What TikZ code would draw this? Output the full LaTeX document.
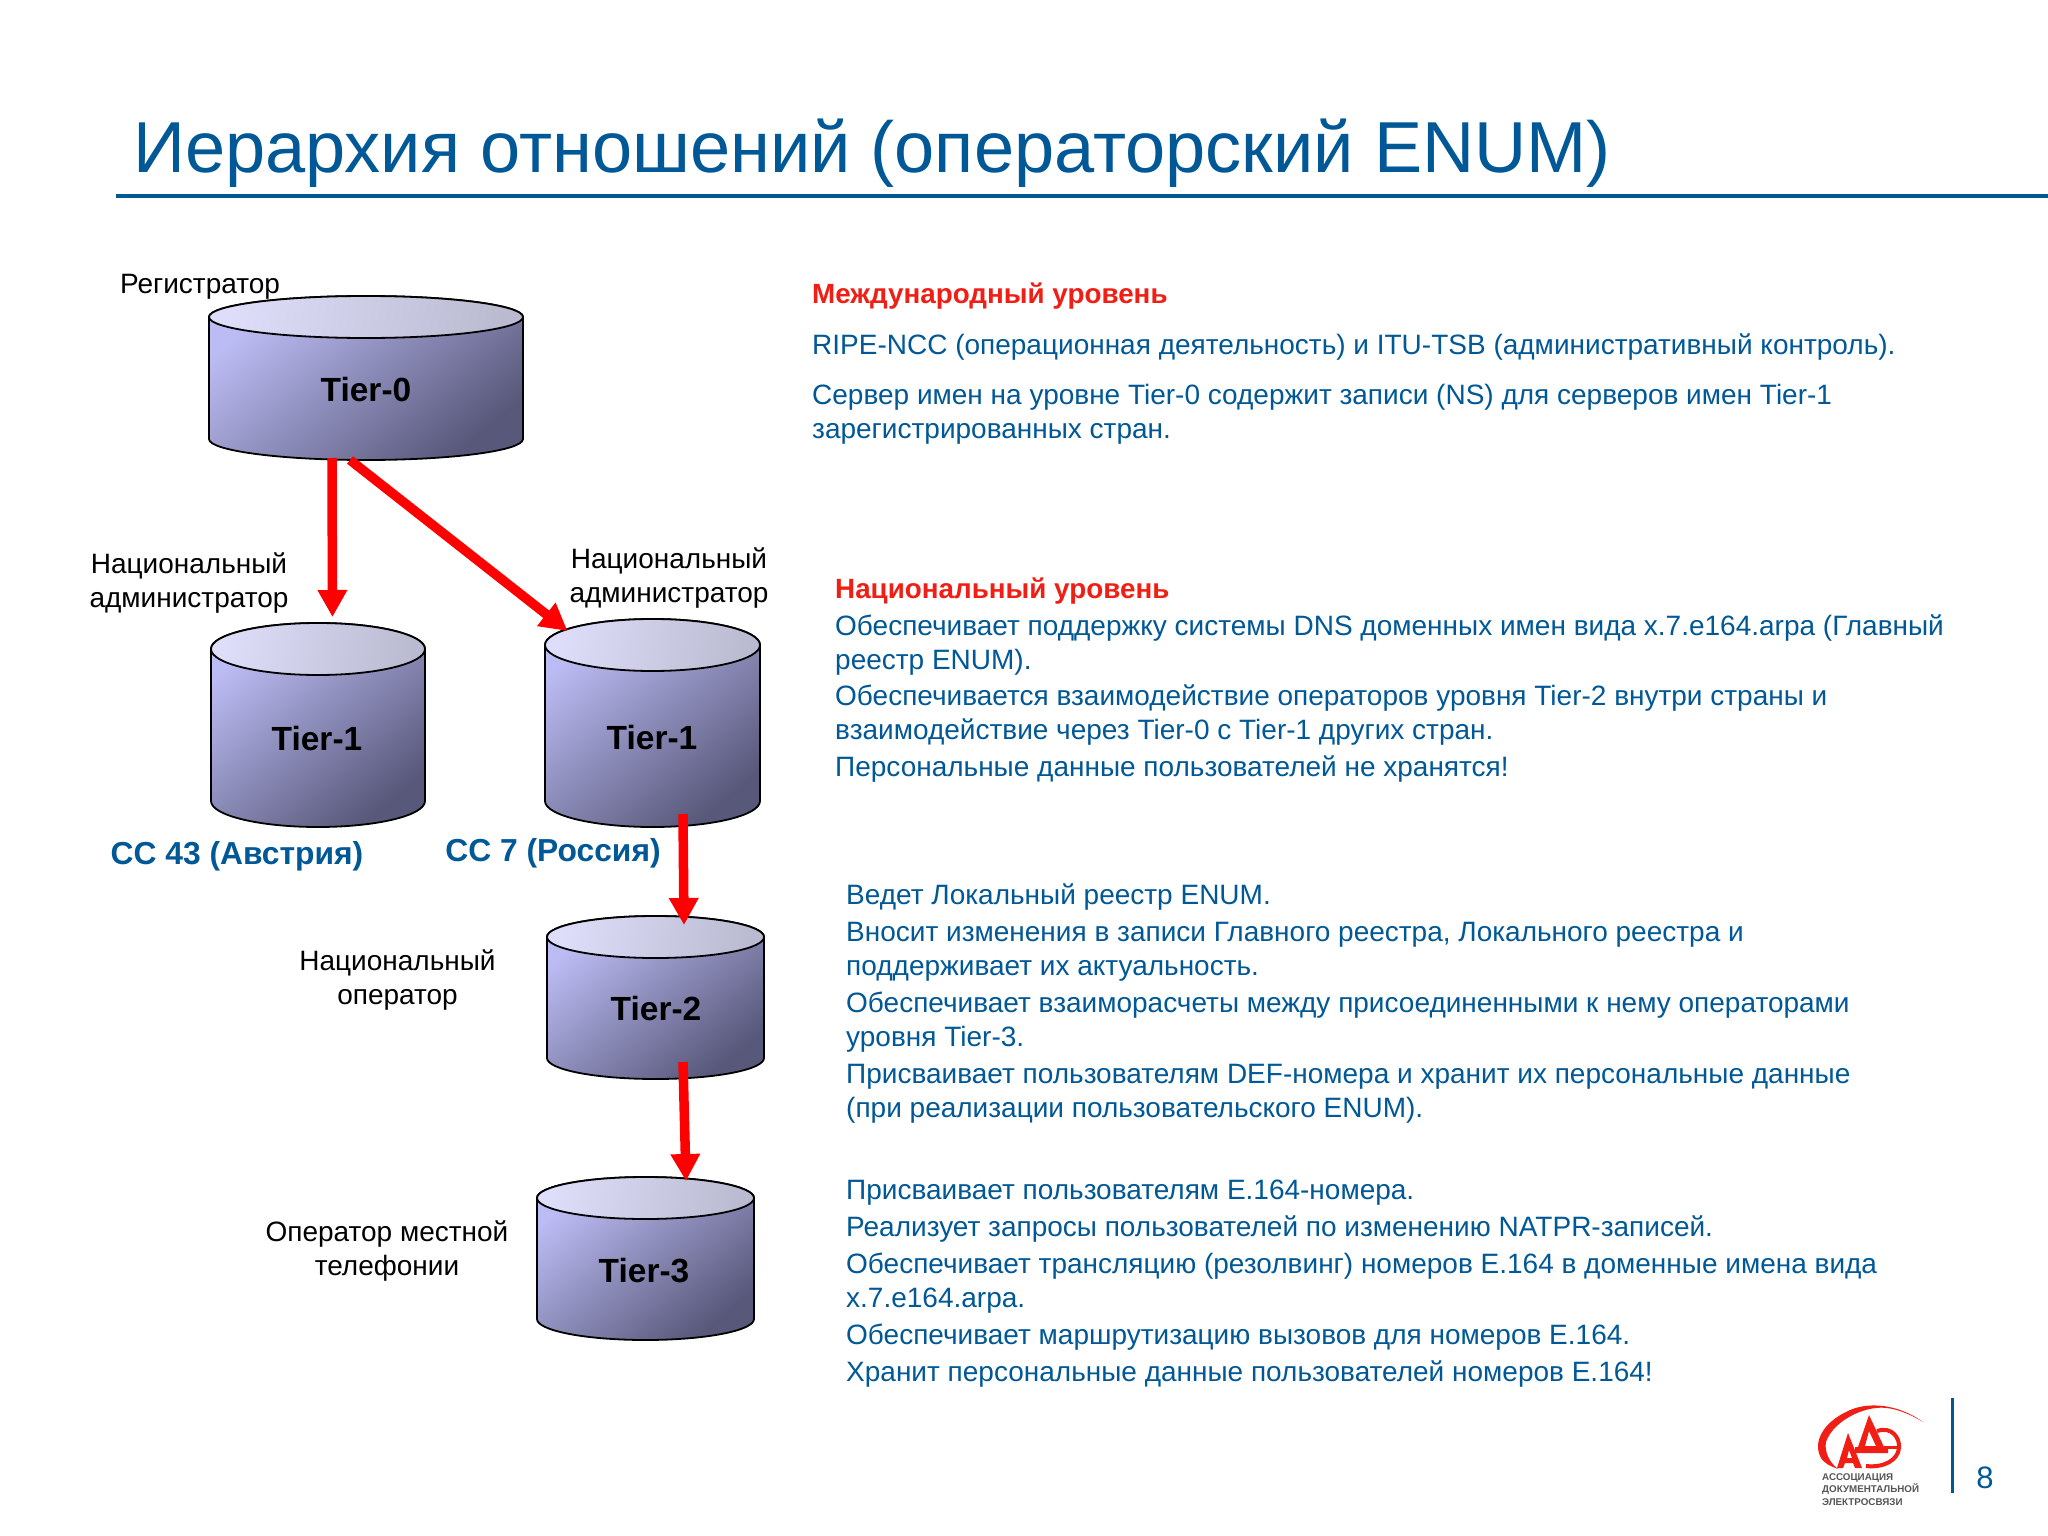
\documentclass[tikz,border=0pt]{standalone}
\usepackage{fontspec}
\setmainfont{Liberation Sans}
\usetikzlibrary{arrows.meta}
\definecolor{ablue}{RGB}{0,88,150}
\definecolor{ared}{RGB}{240,30,20}
\newcount\lnc
\newcommand\tl[3]{\global\advance\lnc by 1 \node[bodytext] (L\the\lnc) at (#1,#2) {#3};}
\newcommand\hd[3]{\global\advance\lnc by 1 \node[bodytext,ared,font=\fontsize{27.8}{34}\selectfont\bfseries] (L\the\lnc) at (#1,#2) {#3};}
% name x0 x1 ytop ybot ry labelx labely label
\newcommand\cyl[9]{%
  \pgfmathsetmacro\cxx{(#2+#3)/2}\pgfmathsetmacro\rxx{(#3-#2)/2}%
  \pgfmathsetmacro\cyt{#4+#6}\pgfmathsetmacro\cyb{#5-#6}\pgfmathsetmacro\cym{(#4+#5)/2}%
  \pgfmathsetmacro\hh{#5-#4}\pgfmathsetmacro\ww{#3-#2}%
  \path[cylbody] (#2,\cyt) -- (#2,\cyb) arc[start angle=180,end angle=360,x radius=\rxx pt,y radius=#6 pt] -- (#3,\cyt) arc[start angle=0,end angle=180,x radius=\rxx pt,y radius=#6 pt] -- cycle;
  \path[cyltop] (\cxx,\cyt) ellipse[x radius=\rxx pt,y radius=#6 pt];
  \node[cylbox,minimum width=\ww pt,minimum height=\hh pt] (#1) at (\cxx,\cym) {};
  \node[tierlabel] (#1t) at (#7,#8) {#9};
}
\tikzset{
  bodytext/.style={anchor=base west,inner sep=0pt,ablue,font=\fontsize{28}{34}\selectfont},
  blacklabel/.style={inner sep=0pt,align=center,black,font=\fontsize{28}{34}\selectfont},
  cclabel/.style={inner sep=0pt,ablue,font=\fontsize{31.8}{36}\selectfont\bfseries},
  tierlabel/.style={inner sep=0pt,black,font=\fontsize{33.5}{38}\selectfont\bfseries},
  cylbody/.style={draw=black,line width=1.8pt,top color=cylA,bottom color=cylB,shading angle=40},
  cyltop/.style={draw=black,line width=1.8pt,top color=cylC,bottom color=cylD,shading angle=80},
  cylbox/.style={inner sep=0pt,outer sep=0pt,rectangle},
  redarrow/.style={draw=red,line width=9.5pt,-{Triangle[width=28pt,length=27pt]}},
}
\definecolor{cylA}{RGB}{188,188,244}
\definecolor{cylB}{RGB}{88,88,122}
\definecolor{cylC}{RGB}{222,222,250}
\definecolor{cylD}{RGB}{186,186,208}
\definecolor{logogray}{RGB}{85,85,85}
\begin{document}
\begin{tikzpicture}[x=1pt,y=-1pt]
\useasboundingbox (0,0) rectangle (2048,1536);
\fill[white] (0,0) rectangle (2048,1536);
% title
\node[anchor=base west,inner sep=0pt,ablue,font=\fontsize{72.2}{80}\selectfont] (title) at (133,172) {Иерархия отношений (операторский ENUM)};
\coordinate (ruleL) at (116,196);
\coordinate (ruleR) at (2048,196);
\draw[ablue,line width=3.2pt] (ruleL) -- (ruleR);
% cylinders
\cyl{t0}{209}{523}{296}{460}{21}{366}{390}{Tier-0}
\cyl{t1a}{211}{425}{623}{827}{26}{317}{739}{Tier-1}
\cyl{t1b}{545}{760}{619}{827}{26}{652}{738}{Tier-1}
\cyl{t2}{547}{764}{916}{1079}{21}{656}{1009}{Tier-2}
\cyl{t3}{537}{754}{1177}{1340}{21}{644}{1271}{Tier-3}
% arrows
\draw[redarrow] ([xshift=-34pt,yshift=2pt]t0.south) -- ([xshift=14.5pt,yshift=6pt]t1a.north);
\draw[redarrow] ([xshift=-16pt]t0.south) -- ([xshift=-85pt,yshift=-12pt]t1b.north);
\draw[redarrow] ([xshift=30.5pt,yshift=13pt]t1b.south) -- ([xshift=28.5pt,yshift=-9pt]t2.north);
\draw[redarrow] ([xshift=27.5pt,yshift=17pt]t2.south) -- ([xshift=40.5pt,yshift=-4pt]t3.north);
% black labels
\node[blacklabel] (lreg) at (200,287) {Регистратор};
\node[blacklabel] (lna1) at (189,583) {Национальный\\администратор};
\node[blacklabel] (lna2) at (669,578) {Национальный\\администратор};
\node[blacklabel] (lno) at (397.5,980) {Национальный\\оператор};
\node[blacklabel] (lom) at (387,1251) {Оператор местной\\телефонии};
\node[cclabel] (cc43) at (237,856) {CC 43 (Австрия)};
\node[cclabel] (cc7) at (553,853.5) {CC 7 (Россия)};
% body text
\hd{812}{303}{Международный уровень}
\tl{812}{354}{RIPE-NCC (операционная деятельность) и ITU-TSB (административный контроль).}
\tl{812}{404}{Сервер имен на уровне Tier-0 содержит записи (NS) для серверов имен Tier-1}
\tl{812}{438}{зарегистрированных стран.}
\hd{835}{598}{Национальный уровень}
\tl{835}{635.5}{Обеспечивает поддержку системы DNS доменных имен вида x.7.e164.arpa (Главный}
\tl{835}{669.5}{реестр ENUM).}
\tl{835}{705.5}{Обеспечивается взаимодействие операторов уровня Tier-2 внутри страны и}
\tl{835}{739.5}{взаимодействие через Tier-0 с Tier-1 других стран.}
\tl{835}{776.5}{Персональные данные пользователей не хранятся!}
\tl{846}{904.5}{Ведет Локальный реестр ENUM.}
\tl{846}{941}{Вносит изменения в записи Главного реестра, Локального реестра и}
\tl{846}{975}{поддерживает их актуальность.}
\tl{846}{1012}{Обеспечивает взаиморасчеты между присоединенными к нему операторами}
\tl{846}{1046}{уровня Tier-3.}
\tl{846}{1083}{Присваивает пользователям DEF-номера и хранит их персональные данные}
\tl{846}{1117}{(при реализации пользовательского ENUM).}
\tl{846}{1199.5}{Присваивает пользователям E.164-номера.}
\tl{846}{1236.5}{Реализует запросы пользователей по изменению NATPR-записей.}
\tl{846}{1273.5}{Обеспечивает трансляцию (резолвинг) номеров E.164 в доменные имена вида}
\tl{846}{1307.5}{x.7.e164.arpa.}
\tl{846}{1344}{Обеспечивает маршрутизацию вызовов для номеров E.164.}
\tl{846}{1381}{Хранит персональные данные пользователей номеров E.164!}
% logo
\fill[ared] (1923,1422) .. controls (1900,1405) and (1868,1400) .. (1846,1412)
  .. controls (1825,1422) and (1813,1440) .. (1820,1456)
  .. controls (1823,1463) and (1830,1466) .. (1838,1469)
  .. controls (1830,1463) and (1824,1452) .. (1826,1442)
  .. controls (1832,1424) and (1856,1410) .. (1876,1408)
  .. controls (1892,1406) and (1910,1414) .. (1923,1422) -- cycle;
\fill[ared,even odd rule] (1848,1433) -- (1862,1468) -- (1855,1468) -- (1853,1463) -- (1845,1463) -- (1843,1468) -- (1837,1468) -- cycle (1849,1450) -- (1847,1458) -- (1852,1458) -- cycle;
\fill[ared,even odd rule] (1869,1415) -- (1884,1447) -- (1888,1447) -- (1888,1453) -- (1855,1453) -- (1855,1447) -- (1858,1447) -- cycle (1869,1431) -- (1865,1446) -- (1876,1446) -- cycle;
\draw[ared,line width=4pt] (1877,1431) .. controls (1892,1426) and (1900,1438) .. (1899,1448) .. controls (1898,1460) and (1884,1468) .. (1866,1466);
\draw[ared,line width=3pt] (1884,1447) -- (1897,1447);
\node[inner sep=0pt,anchor=base west,logogray,font=\fontsize{9.8}{11}\selectfont\bfseries] (logo1) at (1822,1480) {АССОЦИАЦИЯ};
\node[inner sep=0pt,anchor=base west,logogray,font=\fontsize{9.8}{11}\selectfont\bfseries] (logo2) at (1822,1492.5) {ДОКУМЕНТАЛЬНОЙ};
\node[inner sep=0pt,anchor=base west,logogray,font=\fontsize{9.8}{11}\selectfont\bfseries] (logo3) at (1822,1505) {ЭЛЕКТРОСВЯЗИ};
% page mark
\coordinate (barT) at (1952.5,1398);
\coordinate (barB) at (1952.5,1493);
\draw[ablue,line width=2.4pt] (barT) -- (barB);
\node[inner sep=0pt,ablue,font=\fontsize{31}{36}\selectfont] (pageno) at (1985,1478) {8};
\end{tikzpicture}
\end{document}
